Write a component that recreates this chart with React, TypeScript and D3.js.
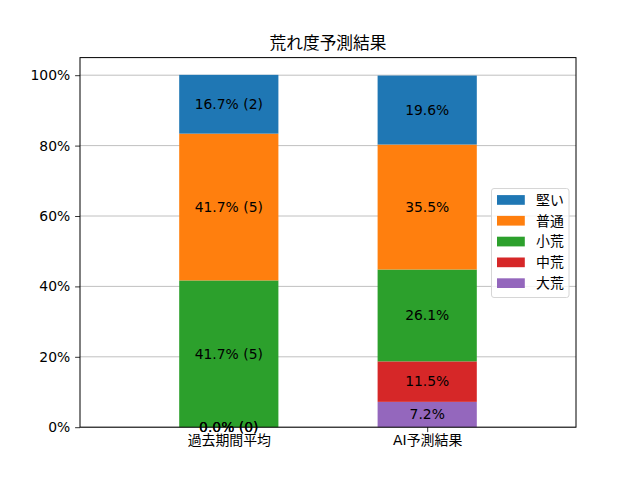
import { useEffect, useRef } from 'react'
import * as d3 from 'd3'

const categories = ['過去期間平均', 'AI予測結果']
// stacking order, bottom to top
const seriesNames = ['大荒', '中荒', '小荒', '普通', '堅い']
const seriesColors = ['#9467bd', '#d62728', '#2ca02c', '#ff7f0e', '#1f77b4']
const pastValues = [0.0, 0.0, 41.7, 41.7, 16.7]
const pastCounts = [0, 0, 5, 5, 2]
const aiValues = [7.2, 11.5, 26.1, 35.5, 19.6]
const legendOrder = ['堅い', '普通', '小荒', '中荒', '大荒']
const yTicks = [0, 20, 40, 60, 80, 100]

const FONT = '"DejaVu Sans", "Noto Sans CJK JP", sans-serif'

export default function App() {
  const svgRef = useRef<SVGSVGElement>(null)

  useEffect(() => {
    const svgEl = svgRef.current
    if (!svgEl) return
    const W = 640, H = 480
    const margin = { top: 57.6, right: 64, bottom: 52.8, left: 80 }
    const iw = W - margin.left - margin.right
    const ih = H - margin.top - margin.bottom

    const svg = d3.select(svgEl)
    svg.selectAll('*').remove()
    svg.attr('width', W).attr('height', H)
    svg.append('rect').attr('width', W).attr('height', H).attr('fill', '#fff')

    const g = svg.append('g').attr('transform', `translate(${margin.left},${margin.top})`)

    const x = d3.scaleLinear().domain([-0.75, 1.75]).range([0, iw])
    const y = d3.scaleLinear().domain([0, 105]).range([ih, 0])
    const barW = x(0.5) - x(0)

    // grid (under bars)
    g.append('g').selectAll('line').data(yTicks).enter().append('line')
      .attr('x1', 0).attr('x2', iw)
      .attr('y1', d => y(d)).attr('y2', d => y(d))
      .attr('stroke', '#b0b0b0').attr('stroke-width', 0.8)

    const rows = [
      { values: pastValues, counts: pastCounts as number[] | null },
      { values: aiValues, counts: null },
    ]

    rows.forEach((row, ci) => {
      let base = 0
      const segs = row.values.map((v, si) => {
        const s = { y0: base, y1: base + v, v, si }
        base += v
        return s
      })
      g.append('g').selectAll('rect').data(segs).enter().append('rect')
        .attr('x', x(ci) - barW / 2).attr('width', barW)
        .attr('y', d => y(d.y1)).attr('height', d => y(d.y0) - y(d.y1))
        .attr('fill', d => seriesColors[d.si])
      g.append('g').selectAll('text').data(segs).enter().append('text')
        .attr('x', x(ci))
        .attr('y', d => y((d.y0 + d.y1) / 2))
        .attr('dy', '0.35em')
        .attr('text-anchor', 'middle')
        .attr('font-family', FONT).attr('font-size', 13.9)
        .attr('fill', '#000')
        .text(d => row.counts
          ? `${d.v.toFixed(1)}% (${row.counts[d.si]})`
          : `${d.v.toFixed(1)}%`)
    })

    // frame
    g.append('rect').attr('width', iw).attr('height', ih)
      .attr('fill', 'none').attr('stroke', '#000').attr('stroke-width', 1)

    // y axis
    g.append('g')
      .call(d3.axisLeft(y).tickValues(yTicks).tickSize(4.9).tickPadding(4.9).tickFormat(d => `${d}%`))
      .call(ax => {
        ax.select('.domain').remove()
        ax.selectAll('.tick line').attr('stroke', '#000').attr('stroke-width', 0.8)
        ax.selectAll('.tick text').attr('font-family', FONT).attr('font-size', 13.9).attr('fill', '#000')
      })

    // x axis
    g.append('g').attr('transform', `translate(0,${ih})`)
      .call(d3.axisBottom(x).tickValues([0, 1]).tickSize(4.9).tickPadding(3.5).tickFormat((_, i) => categories[i]))
      .call(ax => {
        ax.select('.domain').remove()
        ax.selectAll('.tick line').attr('stroke', '#000').attr('stroke-width', 0.8)
        ax.selectAll('.tick text').attr('font-family', FONT).attr('font-size', 13.9).attr('fill', '#000')
      })

    // title
    svg.append('text')
      .attr('x', margin.left + iw / 2).attr('y', margin.top - 8.3)
      .attr('text-anchor', 'middle')
      .attr('font-family', FONT).attr('font-size', 16.7).attr('fill', '#000')
      .text('荒れ度予測結果')

    // legend
    const lg = svg.append('g').attr('transform', 'translate(491.5,188.5)')
    lg.append('rect').attr('width', 77.5).attr('height', 109).attr('rx', 2.5)
      .attr('fill', '#fff').attr('fill-opacity', 0.8)
      .attr('stroke', '#d6d6d6').attr('stroke-width', 1)
    legendOrder.forEach((name, i) => {
      const si = seriesNames.indexOf(name)
      const cy = 11.5 + i * 20.8
      lg.append('rect').attr('x', 5.5).attr('y', cy - 4.9).attr('width', 27.8).attr('height', 9.7)
        .attr('fill', seriesColors[si])
      lg.append('text').attr('x', 44.5).attr('y', cy).attr('dy', '0.35em')
        .attr('font-family', FONT).attr('font-size', 13.9).attr('fill', '#000')
        .text(name)
    })
  }, [])

  return (
    <div style={{ position: 'fixed', left: 0, top: 0 }}>
      <svg ref={svgRef} style={{ display: 'block' }} />
    </div>
  )
}
